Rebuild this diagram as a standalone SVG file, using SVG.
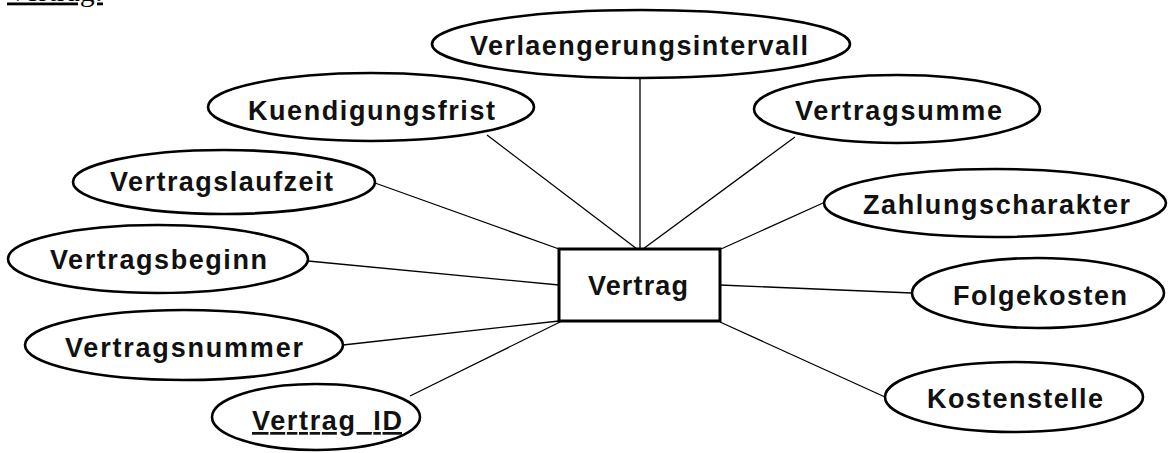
<svg xmlns="http://www.w3.org/2000/svg" width="1168" height="453" viewBox="0 0 1168 453">
<style>
.attr ellipse{fill:#fff;stroke:#000;stroke-width:2.6}
.ent rect{fill:#fff;stroke:#000;stroke-width:3}
.lbl{font-family:"Liberation Sans",Arial,sans-serif;font-weight:bold;font-size:27px;fill:#111}
#connectors line{stroke:#000;stroke-width:1.3}
.title{font-family:"Liberation Serif","Times New Roman",serif;font-size:28px;fill:#000;text-decoration:underline}
</style>
<rect width="1168" height="453" fill="#fff"/>
<text class="title" x="7" y="0.5" textLength="96" lengthAdjust="spacingAndGlyphs">Vertrag:</text>
<g id="connectors">
<line x1="640" y1="78" x2="640" y2="249"/>
<line x1="487" y1="135" x2="637" y2="249"/>
<line x1="795" y1="137" x2="643" y2="249"/>
<line x1="375" y1="183" x2="559" y2="249"/>
<line x1="823" y1="203" x2="721" y2="249"/>
<line x1="308" y1="261" x2="559" y2="285"/>
<line x1="720" y1="285" x2="912" y2="293"/>
<line x1="343" y1="345" x2="559" y2="321"/>
<line x1="410" y1="396" x2="562" y2="321"/>
<line x1="720" y1="322" x2="885" y2="397"/>
</g>
<g id="verlaengerungsintervall" class="attr"><ellipse cx="641" cy="44" rx="209" ry="34"/><text class="lbl" x="470" y="55" textLength="338" lengthAdjust="spacing">Verlaengerungsintervall</text></g>
<g id="kuendigungsfrist" class="attr"><ellipse cx="371" cy="107" rx="163" ry="34"/><text class="lbl" x="248" y="120" textLength="247" lengthAdjust="spacing">Kuendigungsfrist</text></g>
<g id="vertragsumme" class="attr"><ellipse cx="897" cy="109" rx="143" ry="34"/><text class="lbl" x="795" y="120" textLength="207" lengthAdjust="spacing">Vertragsumme</text></g>
<g id="vertragslaufzeit" class="attr"><ellipse cx="224" cy="182" rx="151" ry="32"/><text class="lbl" x="110" y="191" textLength="223" lengthAdjust="spacing">Vertragslaufzeit</text></g>
<g id="zahlungscharakter" class="attr"><ellipse cx="995" cy="203" rx="171" ry="34"/><text class="lbl" x="863" y="214" textLength="267" lengthAdjust="spacing">Zahlungscharakter</text></g>
<g id="vertragsbeginn" class="attr"><ellipse cx="158" cy="259" rx="150" ry="34"/><text class="lbl" x="50" y="269" textLength="217" lengthAdjust="spacing">Vertragsbeginn</text></g>
<g id="folgekosten" class="attr"><ellipse cx="1038" cy="293" rx="126" ry="35"/><text class="lbl" x="953" y="305" textLength="174" lengthAdjust="spacing">Folgekosten</text></g>
<g id="vertragsnummer" class="attr"><ellipse cx="184" cy="345" rx="159" ry="35"/><text class="lbl" x="65" y="357" textLength="238" lengthAdjust="spacing">Vertragsnummer</text></g>
<g id="vertrag_id" class="attr"><ellipse cx="316" cy="417" rx="104" ry="33"/><text class="lbl" x="252" y="430" textLength="150" lengthAdjust="spacing" text-decoration="underline">Vertrag_ID</text></g>
<g id="kostenstelle" class="attr"><ellipse cx="1014" cy="397" rx="129" ry="35"/><text class="lbl" x="927" y="408" textLength="176" lengthAdjust="spacing">Kostenstelle</text></g>
<g id="vertrag" class="ent"><rect x="559" y="249" width="161" height="72"/><text class="lbl" x="588" y="295" textLength="100" lengthAdjust="spacing">Vertrag</text></g>
</svg>
